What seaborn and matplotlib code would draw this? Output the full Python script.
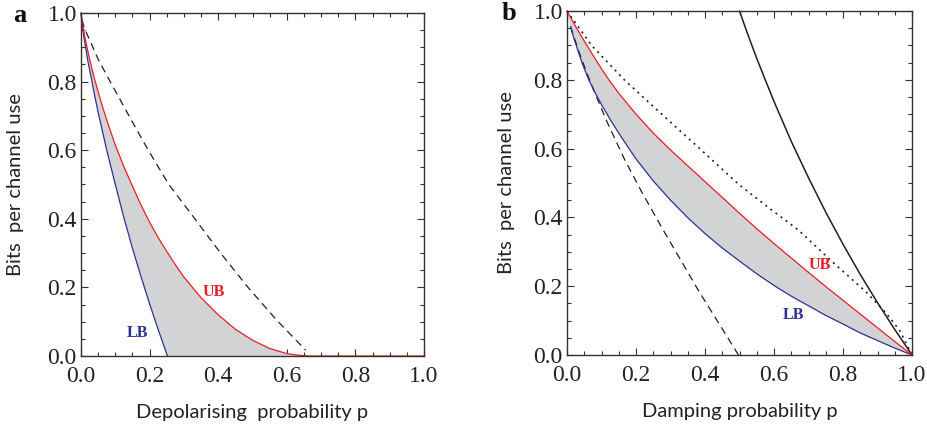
import numpy as np
import seaborn as sns
import matplotlib.pyplot as plt
from matplotlib.ticker import MultipleLocator

# Panel a: depolarising channel
a_lb_p = [0.0, 0.004, 0.01, 0.02, 0.03, 0.04, 0.05, 0.075, 0.10, 0.125, 0.15, 0.175, 0.20, 0.225, 0.252]
a_lb_y = [1.0, 0.96, 0.92, 0.86, 0.81, 0.758, 0.71, 0.60, 0.50, 0.403, 0.314, 0.231, 0.152, 0.077, 0.0]

a_ub_p = [0.0, 0.004, 0.01, 0.02, 0.03, 0.04, 0.05, 0.0625, 0.075, 0.0875, 0.10, 0.125, 0.15,
          0.175, 0.20, 0.225, 0.25, 0.275, 0.30, 0.35, 0.40, 0.45, 0.50, 0.55, 0.60, 0.635, 0.667, 1.0]
a_ub_y = [1.0, 0.97, 0.935, 0.888, 0.845, 0.805, 0.77, 0.727, 0.688, 0.651, 0.615, 0.552, 0.495,
          0.44, 0.39, 0.345, 0.305, 0.266, 0.23, 0.17, 0.12, 0.078, 0.046, 0.022, 0.007, 0.002, 0.0, 0.0]

a_dash_p = [0.003, 0.01, 0.028, 0.05, 0.085, 0.14, 0.196, 0.256, 0.332, 0.407, 0.487, 0.57, 0.655]
a_dash_y = [0.98, 0.955, 0.915, 0.865, 0.80, 0.70, 0.60, 0.50, 0.40, 0.30, 0.20, 0.105, 0.017]

# Panel b: amplitude damping channel
b_lb_p = [0.01, 0.02, 0.03, 0.045, 0.063, 0.08, 0.10, 0.125, 0.15, 0.175, 0.20, 0.25, 0.30, 0.35,
          0.40, 0.45, 0.50, 0.55, 0.60, 0.65, 0.70, 0.75, 0.80, 0.85, 0.90, 0.95, 1.0]
b_lb_y = [0.955, 0.92, 0.89, 0.845, 0.80, 0.765, 0.728, 0.685, 0.645, 0.607, 0.57, 0.506, 0.45, 0.399,
          0.353, 0.311, 0.273, 0.236, 0.202, 0.171, 0.143, 0.115, 0.09, 0.064, 0.042, 0.02, 0.0]

b_ub_p = [0.0, 0.025, 0.06, 0.10, 0.122, 0.15, 0.20, 0.25, 0.30, 0.35, 0.40, 0.45, 0.50,
          0.55, 0.60, 0.65, 0.70, 0.75, 0.80, 0.85, 0.90, 0.95, 1.0]
b_ub_y = [1.0, 0.955, 0.896, 0.832, 0.799, 0.761, 0.70, 0.645, 0.596, 0.55, 0.504, 0.458, 0.412,
          0.367, 0.324, 0.282, 0.24, 0.199, 0.159, 0.119, 0.079, 0.039, 0.0]

b_dash_p = [0.01, 0.035, 0.065, 0.115, 0.168, 0.216, 0.279, 0.38, 0.497]
b_dash_y = [0.955, 0.88, 0.80, 0.68, 0.566, 0.475, 0.363, 0.189, 0.0]

b_dot_p = [0.0, 0.071, 0.167, 0.28, 0.39, 0.50, 0.59, 0.671, 0.77, 0.865, 0.925, 0.965, 1.0]
b_dot_y = [1.0, 0.90, 0.799, 0.695, 0.595, 0.494, 0.424, 0.363, 0.27, 0.185, 0.122, 0.07, 0.0]

b_solid_p = [0.50, 0.52, 0.55, 0.575, 0.60, 0.65, 0.70, 0.75, 0.80, 0.85, 0.90, 0.95, 1.0]
b_solid_y = [1.0, 0.943, 0.862, 0.799, 0.737, 0.621, 0.515, 0.415, 0.322, 0.234, 0.152, 0.074, 0.0]

tick_vals = [0.0, 0.2, 0.4, 0.6, 0.8, 1.0]
tick_text = ['0.0', '0.2', '0.4', '0.6', '0.8', '1.0']

RED = '#ec1c24'
BLUE = '#2e3192'
GREY = '#d1d3d4'
INK = '#231f20'

sns.set_theme(style='ticks')
plt.rcParams['font.family'] = ['Liberation Serif', 'DejaVu Serif']
plt.rcParams['xtick.direction'] = 'in'
plt.rcParams['ytick.direction'] = 'in'

fig = plt.figure(figsize=(9.28, 4.30), dpi=100)
ax_a = fig.add_axes([0.0873, 0.1721, 0.3696, 0.7977])
ax_b = fig.add_axes([0.611, 0.1744, 0.3718, 0.800])


def style_axes(ax, xlabel, ylab_x):
    ax.set_xlim(0, 1)
    ax.set_ylim(0, 1)
    ax.xaxis.set_minor_locator(MultipleLocator(0.05))
    ax.yaxis.set_minor_locator(MultipleLocator(0.05))
    ax.set_xticks(tick_vals)
    ax.set_xticklabels(tick_text)
    ax.set_yticks(tick_vals)
    ax.set_yticklabels(tick_text)
    ax.tick_params(which='both', top=True, right=True, direction='in', color='#333333', width=0.8)
    ax.tick_params(which='major', length=5, labelsize=17, labelcolor='#222222')
    ax.tick_params(axis='x', which='major', pad=7)
    ax.tick_params(axis='y', which='major', pad=3)
    ax.tick_params(which='minor', length=3)
    for sp in ax.spines.values():
        sp.set_visible(True)
        sp.set_linewidth(1.0)
        sp.set_color('#333333')
    ax.set_xlabel(xlabel, family=['Lato', 'DejaVu Sans'], fontsize=14.5, color='#222222')
    ax.set_ylabel('Bits  per channel use', family=['Lato', 'DejaVu Sans'], fontsize=14.5, color='#222222')
    ax.xaxis.set_label_coords(0.5, -0.14)
    ax.yaxis.set_label_coords(ylab_x, 0.5)


def curve(ax, x, y, color, lw=0.9, ls='-'):
    sns.lineplot(x=x, y=y, ax=ax, color=color, lw=lw, linestyle=ls,
                 sort=False, estimator=None, clip_on=False)


# ---- panel a
ax_a.fill(np.concatenate([a_lb_p, a_ub_p[::-1]]), np.concatenate([a_lb_y, a_ub_y[::-1]]),
          color=GREY, lw=0)
curve(ax_a, a_dash_p, a_dash_y, INK, lw=0.9, ls=(0, (6, 4)))
curve(ax_a, a_lb_p, a_lb_y, BLUE)
curve(ax_a, a_ub_p, a_ub_y, RED)
ax_a.text(0.388, 0.187, 'UB', color=RED, fontsize=11.5, fontweight='bold', ha='center', va='center')
ax_a.text(0.166, 0.067, 'LB', color=BLUE, fontsize=11.5, fontweight='bold', ha='center', va='center')
style_axes(ax_a, 'Depolarising  probability p', -0.165)

# ---- panel b
ax_b.fill(np.concatenate([b_lb_p, b_ub_p[::-1]]), np.concatenate([b_lb_y, b_ub_y[::-1]]),
          color=GREY, lw=0)
curve(ax_b, b_dash_p, b_dash_y, INK, lw=0.9, ls=(0, (6, 4)))
curve(ax_b, b_dot_p, b_dot_y, INK, lw=1.2, ls=(0, (1.2, 2.6)))
curve(ax_b, b_solid_p, b_solid_y, INK, lw=1.1)
curve(ax_b, b_lb_p, b_lb_y, BLUE)
curve(ax_b, b_ub_p, b_ub_y, RED)
ax_b.text(0.732, 0.261, 'UB', color=RED, fontsize=11.5, fontweight='bold', ha='center', va='center')
ax_b.text(0.657, 0.116, 'LB', color=BLUE, fontsize=11.5, fontweight='bold', ha='center', va='center')
style_axes(ax_b, 'Damping probability p', -0.15)

fig.text(0.014, 0.949, 'a', fontsize=19, fontweight='bold', color='#111111', va='baseline')
fig.text(0.541, 0.953, 'b', fontsize=19, fontweight='bold', color='#111111', va='baseline')

fig.savefig('out.png', dpi=100)
